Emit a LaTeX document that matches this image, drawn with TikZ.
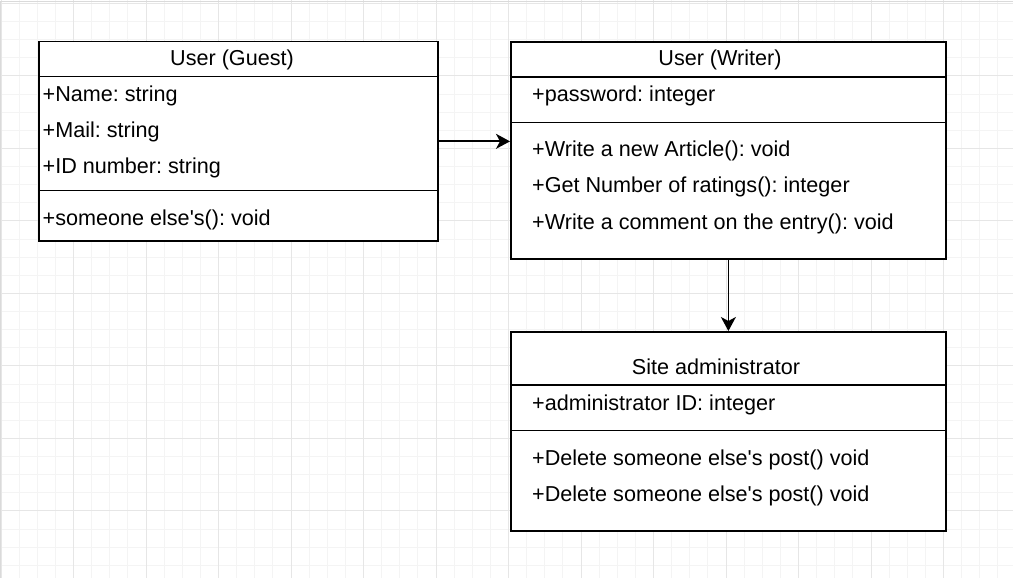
\documentclass[tikz,border=0pt]{standalone}
\usepackage{fontspec}
\setmainfont{Liberation Sans}
\usetikzlibrary{arrows.meta}
\definecolor{gridminor}{HTML}{F4F4F4}
\definecolor{gridmajor}{HTML}{E6E6E6}
\definecolor{frameline}{HTML}{DADADA}
\newcommand{\apos}{\textquotesingle}
\begin{document}
\frenchspacing
\begin{tikzpicture}[x=1pt,y=-1pt,
  umlbox/.style={draw, line width=1.8pt, inner sep=0pt, fill=white, anchor=north west},
  txt/.style={anchor=base west, inner sep=0pt, font=\fontsize{21.6}{24}\selectfont},
  ttl/.style={anchor=base, inner sep=0pt, font=\fontsize{21.6}{24}\selectfont},
  arr/.style={line width=1.8pt, -{Stealth[length=14pt,width=15pt,inset=4pt]}},
  divider/.style={line width=1.8pt},
  minorline/.style={gridminor, line width=0.8pt},
  majorline/.style={gridmajor, line width=0.9pt}]
\useasboundingbox (0,0) rectangle (1013,578);
\fill[white] (0,0) rectangle (1013,578);
% grid
\foreach \i in {0,...,55} { \draw[minorline] ({1+18.125*\i},0) -- ({1+18.125*\i},578); }
\foreach \j in {0,...,31} { \draw[minorline] (0,{3.3+18.125*\j}) -- (1013,{3.3+18.125*\j}); }
\foreach \i in {0,...,13} { \draw[majorline] ({1+72.5*\i},0) -- ({1+72.5*\i},578); }
\foreach \j in {0,...,7} { \draw[majorline] (0,{3.3+72.5*\j}) -- (1013,{3.3+72.5*\j}); }
\draw[frameline, line width=1pt] (0.5,578) -- (0.5,2) -- (1013,2);

% boxes
\node[umlbox, minimum width=399, minimum height=199.5] (guest) at (38,40.7) {};
\node[umlbox, minimum width=435, minimum height=217.3] (writer) at (510,41) {};
\node[umlbox, minimum width=435, minimum height=199] (admin) at (510,331) {};

% dividers
\draw[divider] (guest.west |- 0,76.5) -- (guest.east |- 0,76.5);
\draw[divider] (guest.west |- 0,190.5) -- (guest.east |- 0,190.5);
\draw[divider] (writer.west |- 0,76.7) -- (writer.east |- 0,76.7);
\draw[divider] (writer.west |- 0,122.5) -- (writer.east |- 0,122.5);
\draw[divider] (admin.west |- 0,385) -- (admin.east |- 0,385);
\draw[divider] (admin.west |- 0,430.5) -- (admin.east |- 0,430.5);

% guest texts
\node[ttl] (gt) at (232,66) {User (Guest)};
\node[txt] (g1) at (42.5,101.7) {+Name: string};
\node[txt] (g2) at (42.5,137.7) {+Mail: string};
\node[txt] (g3) at (42.5,173.7) {+ID number: string};
\node[txt] (g4) at (42.5,225) {+someone else\apos s(): void};

% writer texts
\node[ttl] (wt) at (720,66) {User (Writer)};
\node[txt] (w1) at (532,101.7) {+password: integer};
\node[txt] (w2) at (532,156.7) {+Write a new Article(): void};
\node[txt] (w3) at (532,192.7) {+Get Number of ratings(): integer};
\node[txt] (w4) at (532,229.3) {+Write a comment on the entry(): void};

% admin texts
\node[ttl] (at) at (716,374.3) {Site administrator};
\node[txt] (a1) at (532,410.7) {+administrator ID: integer};
\node[txt] (a2) at (532,465) {+Delete someone else\apos s post() void};
\node[txt] (a3) at (532,501.7) {+Delete someone else\apos s post() void};

% connectors
\draw[arr] (guest.east) -- (guest.east -| writer.west);
\draw[arr] (writer.south) -- (admin.north);
\end{tikzpicture}
\end{document}
